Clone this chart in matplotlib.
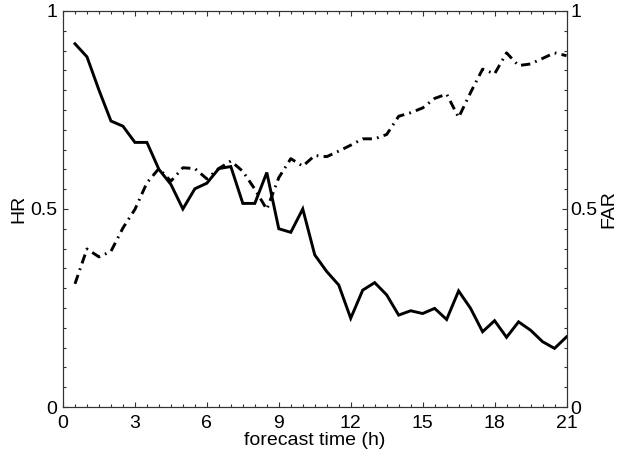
import numpy as np
import matplotlib
matplotlib.use("Agg")
import matplotlib.pyplot as plt
from matplotlib.ticker import MultipleLocator

# forecast lead time (h), every half hour
lead_time = [0.5, 1.0, 1.5, 2.0, 2.5, 3.0, 3.5, 4.0, 4.5, 5.0,
             5.5, 6.0, 6.5, 7.0, 7.5, 8.0, 8.5, 9.0, 9.5, 10.0,
             10.5, 11.0, 11.5, 12.0, 12.5, 13.0, 13.5, 14.0, 14.5, 15.0,
             15.5, 16.0, 16.5, 17.0, 17.5, 18.0, 18.5, 19.0, 19.5, 20.0,
             20.5, 21.0]

# hit rate
hr = [0.917, 0.884, 0.80, 0.722, 0.709, 0.668, 0.668, 0.600, 0.562, 0.500,
      0.551, 0.565, 0.602, 0.607, 0.514, 0.514, 0.592, 0.450, 0.441, 0.500,
      0.384, 0.342, 0.308, 0.224, 0.295, 0.314, 0.283, 0.232, 0.243, 0.236,
      0.249, 0.221, 0.293, 0.249, 0.190, 0.218, 0.176, 0.215, 0.194, 0.165,
      0.148, 0.177]

# false alarm rate
far = [0.311, 0.399, 0.379, 0.393, 0.452, 0.499, 0.566, 0.602, 0.570, 0.604,
       0.602, 0.576, 0.602, 0.621, 0.595, 0.550, 0.499, 0.579, 0.627, 0.608,
       0.635, 0.632, 0.646, 0.661, 0.677, 0.677, 0.688, 0.734, 0.743, 0.755,
       0.779, 0.790, 0.731, 0.794, 0.853, 0.841, 0.894, 0.862, 0.866, 0.880,
       0.894, 0.887]

plt.rcParams["font.family"] = ["Liberation Sans", "DejaVu Sans"]
plt.rcParams["font.size"] = 14

fig = plt.figure(figsize=(6.25, 4.54), dpi=100)
ax = fig.add_axes([0.1008, 0.1035, 0.8056, 0.8725])
ax2 = ax.twinx()

ax.plot(lead_time, hr, color="black", lw=2.1, solid_joinstyle="miter")
ax2.plot(lead_time, far, color="black", lw=2.1, linestyle=(0, (3.2, 1.8, 0.6, 1.8)))

ax.set_xlim(0, 21)
ax.set_ylim(0, 1)
ax2.set_ylim(0, 1)

ax.xaxis.set_major_locator(MultipleLocator(3))
ax.xaxis.set_minor_locator(MultipleLocator(0.5))
for a in (ax, ax2):
    a.yaxis.set_major_locator(MultipleLocator(0.5))
    a.yaxis.set_minor_locator(MultipleLocator(0.05))
    a.yaxis.set_major_formatter(plt.FuncFormatter(lambda v, p: "%g" % v))
    for s in a.spines.values():
        s.set_linewidth(0.8)
        s.set_color("#333333")

ax.tick_params(which="both", direction="in", top=True, right=False,
               color="#333333", width=0.8)
ax.tick_params(which="major", length=3.5, pad=4)
ax.tick_params(axis="x", which="major", pad=6)
ax.tick_params(which="minor", length=2.2)
ax2.tick_params(which="both", direction="in", color="#333333", width=0.8)
ax2.tick_params(which="major", length=3.5, pad=3)
ax2.tick_params(which="minor", length=2.2)

ax.set_xlabel("forecast time (h)", labelpad=0)
ax.set_ylabel("HR", labelpad=2)
ax2.set_ylabel("FAR", labelpad=2)

fig.savefig("out.png", dpi=100)
